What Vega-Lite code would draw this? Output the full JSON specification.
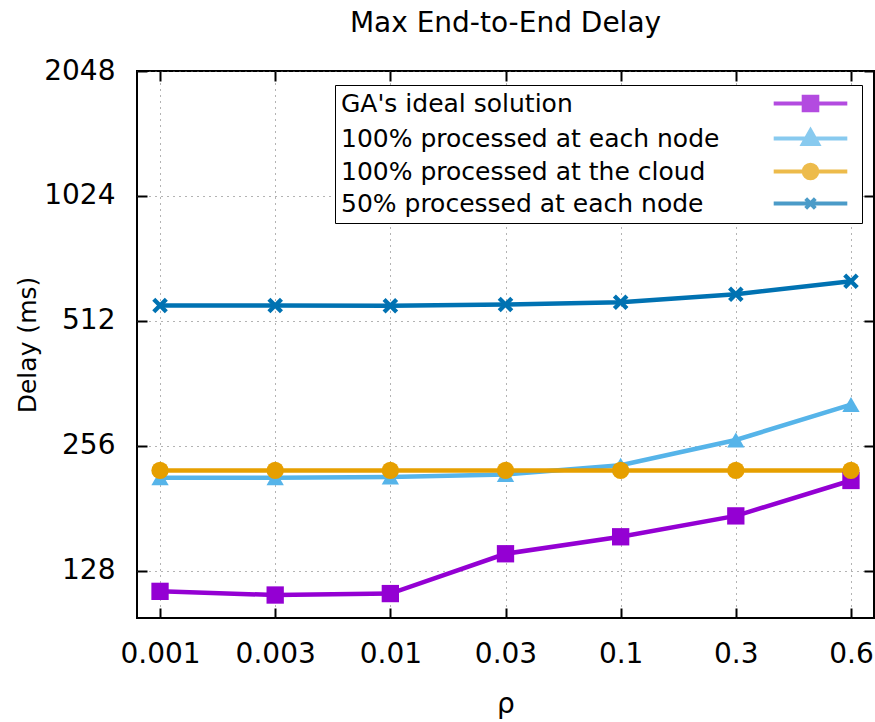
{
  "$schema": "https://vega.github.io/schema/vega-lite/v6.json",
  "width": 737,
  "height": 547,
  "autosize": {"type": "none"},
  "padding": {"left": 137, "top": 71, "right": 1, "bottom": 104},
  "background": "white",
  "title": {"text": "Max End-to-End Delay", "fontSize": 28, "font": "DejaVu Sans", "fontWeight": "normal", "color": "black", "offset": -3, "baseline": "alphabetic", "anchor": "middle"},
  "config": {
    "view": {"stroke": "black", "strokeWidth": 2},
    "font": "DejaVu Sans"
  },
  "data": {"values": [
    {"rho": "0.001", "series": "GA's ideal solution", "delay": 114.3},
    {"rho": "0.003", "series": "GA's ideal solution", "delay": 112.0},
    {"rho": "0.01", "series": "GA's ideal solution", "delay": 112.9},
    {"rho": "0.03", "series": "GA's ideal solution", "delay": 140.8},
    {"rho": "0.1", "series": "GA's ideal solution", "delay": 154.7},
    {"rho": "0.3", "series": "GA's ideal solution", "delay": 173.7},
    {"rho": "0.6", "series": "GA's ideal solution", "delay": 211.4},
    {"rho": "0.001", "series": "100% processed at each node", "delay": 214.7},
    {"rho": "0.003", "series": "100% processed at each node", "delay": 214.7},
    {"rho": "0.01", "series": "100% processed at each node", "delay": 215.6},
    {"rho": "0.03", "series": "100% processed at each node", "delay": 218.6},
    {"rho": "0.1", "series": "100% processed at each node", "delay": 230.0},
    {"rho": "0.3", "series": "100% processed at each node", "delay": 264.6},
    {"rho": "0.6", "series": "100% processed at each node", "delay": 322.0},
    {"rho": "0.001", "series": "100% processed at the cloud", "delay": 223.5},
    {"rho": "0.003", "series": "100% processed at the cloud", "delay": 223.5},
    {"rho": "0.01", "series": "100% processed at the cloud", "delay": 223.5},
    {"rho": "0.03", "series": "100% processed at the cloud", "delay": 223.5},
    {"rho": "0.1", "series": "100% processed at the cloud", "delay": 223.5},
    {"rho": "0.3", "series": "100% processed at the cloud", "delay": 223.5},
    {"rho": "0.6", "series": "100% processed at the cloud", "delay": 223.5},
    {"rho": "0.001", "series": "50% processed at each node", "delay": 558},
    {"rho": "0.003", "series": "50% processed at each node", "delay": 558},
    {"rho": "0.01", "series": "50% processed at each node", "delay": 557},
    {"rho": "0.03", "series": "50% processed at each node", "delay": 561},
    {"rho": "0.1", "series": "50% processed at each node", "delay": 568},
    {"rho": "0.3", "series": "50% processed at each node", "delay": 594},
    {"rho": "0.6", "series": "50% processed at each node", "delay": 638}
  ]},
  "layer": [
    {
      "mark": {"type": "line", "strokeWidth": 4.5},
      "encoding": {
        "x": {"field": "rho", "type": "ordinal", "sort": ["0.001", "0.003", "0.01", "0.03", "0.1", "0.3", "0.6"],
          "scale": {"type": "point", "padding": 0.2},
          "axis": {"orient": "bottom", "title": "ρ", "titleFontSize": 28, "titleFontWeight": "normal", "titleColor": "black", "titlePadding": 22,
            "labelFontSize": 28, "labelColor": "black", "labelAngle": 0, "labelPadding": 32,
            "tickSize": -10, "tickColor": "black", "tickWidth": 2, "domain": false,
            "grid": true, "gridDash": [1, 5], "gridColor": "#666", "gridWidth": 1}},
        "y": {"field": "delay", "type": "quantitative",
          "scale": {"type": "log", "base": 2, "domain": [98.6, 2048], "nice": false},
          "axis": {"orient": "left", "values": [128, 256, 512, 1024, 2048], "format": "d", "title": "Delay (ms)", "titleFontSize": 25, "titleFontWeight": "normal", "titleColor": "black", "titlePadding": 3,
            "labelFontSize": 28, "labelColor": "black", "labelPadding": 32,
            "tickSize": -10, "tickColor": "black", "tickWidth": 2, "domain": false,
            "grid": true, "gridDash": [1, 5], "gridColor": "#666", "gridWidth": 1}},
        "color": {"field": "series", "type": "nominal",
          "scale": {"domain": ["GA's ideal solution", "100% processed at each node", "100% processed at the cloud", "50% processed at each node"],
            "range": ["#9400D3", "#56B4E9", "#E69F00", "#0072B2"]},
          "legend": null}
      }
    },
    {
      "mark": {"type": "point", "filled": true, "opacity": 1, "size": 300},
      "encoding": {
        "x": {"field": "rho", "type": "ordinal", "sort": ["0.001", "0.003", "0.01", "0.03", "0.1", "0.3", "0.6"],
          "axis": {"orient": "top", "labels": false, "title": null, "grid": false, "domain": false, "tickSize": -10, "tickColor": "black", "tickWidth": 2}},
        "y": {"field": "delay", "type": "quantitative",
          "axis": {"orient": "right", "values": [128, 256, 512, 1024, 2048], "labels": false, "title": null, "grid": false, "domain": false, "tickSize": -10, "tickColor": "black", "tickWidth": 2}},
        "color": {"field": "series", "type": "nominal",
          "scale": {"domain": ["GA's ideal solution", "100% processed at each node", "100% processed at the cloud", "50% processed at each node"],
            "range": ["#9400D3", "#56B4E9", "#E69F00", "#0072B2"]},
          "legend": null},
        "shape": {"field": "series", "type": "nominal",
          "scale": {"domain": ["GA's ideal solution", "100% processed at each node", "100% processed at the cloud", "50% processed at each node"],
            "range": ["square", "triangle-up", "circle", "M-0.9,-0.55L-0.55,-0.9L0,-0.35L0.55,-0.9L0.9,-0.55L0.35,0L0.9,0.55L0.55,0.9L0,0.35L-0.55,0.9L-0.9,0.55L-0.35,0Z"]},
          "legend": null}
      }
    },
    {
      "transform": [{"filter": "false"}],
      "mark": {"type": "point", "filled": true, "size": 256, "strokeWidth": 4},
      "encoding": {
        "x": {"field": "rho", "type": "ordinal", "sort": ["0.001", "0.003", "0.01", "0.03", "0.1", "0.3", "0.6"], "axis": null},
        "y": {"field": "delay", "type": "quantitative", "axis": null},
        "color": {"field": "series", "type": "nominal",
          "scale": {"domain": ["GA's ideal solution", "100% processed at each node", "100% processed at the cloud", "50% processed at each node"],
            "range": ["#9400D3", "#56B4E9", "#E69F00", "#0072B2"]},
          "legend": {"orient": "none", "legendX": 198, "legendY": 14, "title": null, "padding": 6,
            "strokeColor": "black", "fillColor": "white",
            "labelFontSize": 25, "labelColor": "black", "labelLimit": 600,
            "symbolSize": 256, "symbolStrokeWidth": 4, "symbolOffset": 457, "labelOffset": -482, "rowPadding": 3}},
        "stroke": {"field": "series", "type": "nominal",
          "scale": {"domain": ["GA's ideal solution", "100% processed at each node", "100% processed at the cloud", "50% processed at each node"],
            "range": ["#9400D3", "#56B4E9", "#E69F00", "#0072B2"]},
          "legend": {"orient": "none", "legendX": 198, "legendY": 14, "title": null, "padding": 6,
            "strokeColor": "black", "fillColor": "white",
            "labelFontSize": 25, "labelColor": "black", "labelLimit": 600,
            "symbolSize": 256, "symbolStrokeWidth": 4, "symbolOffset": 457, "labelOffset": -482, "rowPadding": 3}},
        "shape": {"field": "series", "type": "nominal",
          "scale": {"domain": ["GA's ideal solution", "100% processed at each node", "100% processed at the cloud", "50% processed at each node"],
            "range": [
              "M-4.6,0H4.6M-0.85,-0.85H0.85V0.85H-0.85Z",
              "M-4.6,0H4.6M0,-1L0.95,0.7H-0.95Z",
              "M-4.6,0H4.6M-0.85,0A0.85,0.85 0 1,0 0.85,0A0.85,0.85 0 1,0 -0.85,0Z",
              "M-4.6,0H4.6M-0.6,-0.6L0.6,0.6M0.6,-0.6L-0.6,0.6"
            ]},
          "legend": {"orient": "none", "legendX": 198, "legendY": 14, "title": null, "padding": 6,
            "strokeColor": "black", "fillColor": "white",
            "labelFontSize": 25, "labelColor": "black", "labelLimit": 600,
            "symbolSize": 256, "symbolStrokeWidth": 4, "symbolOffset": 457, "labelOffset": -482, "rowPadding": 3}}
      }
    }
  ],
  "resolve": {"scale": {"color": "independent", "stroke": "independent", "shape": "independent"}, "axis": {"x": "independent", "y": "independent"}}
}
